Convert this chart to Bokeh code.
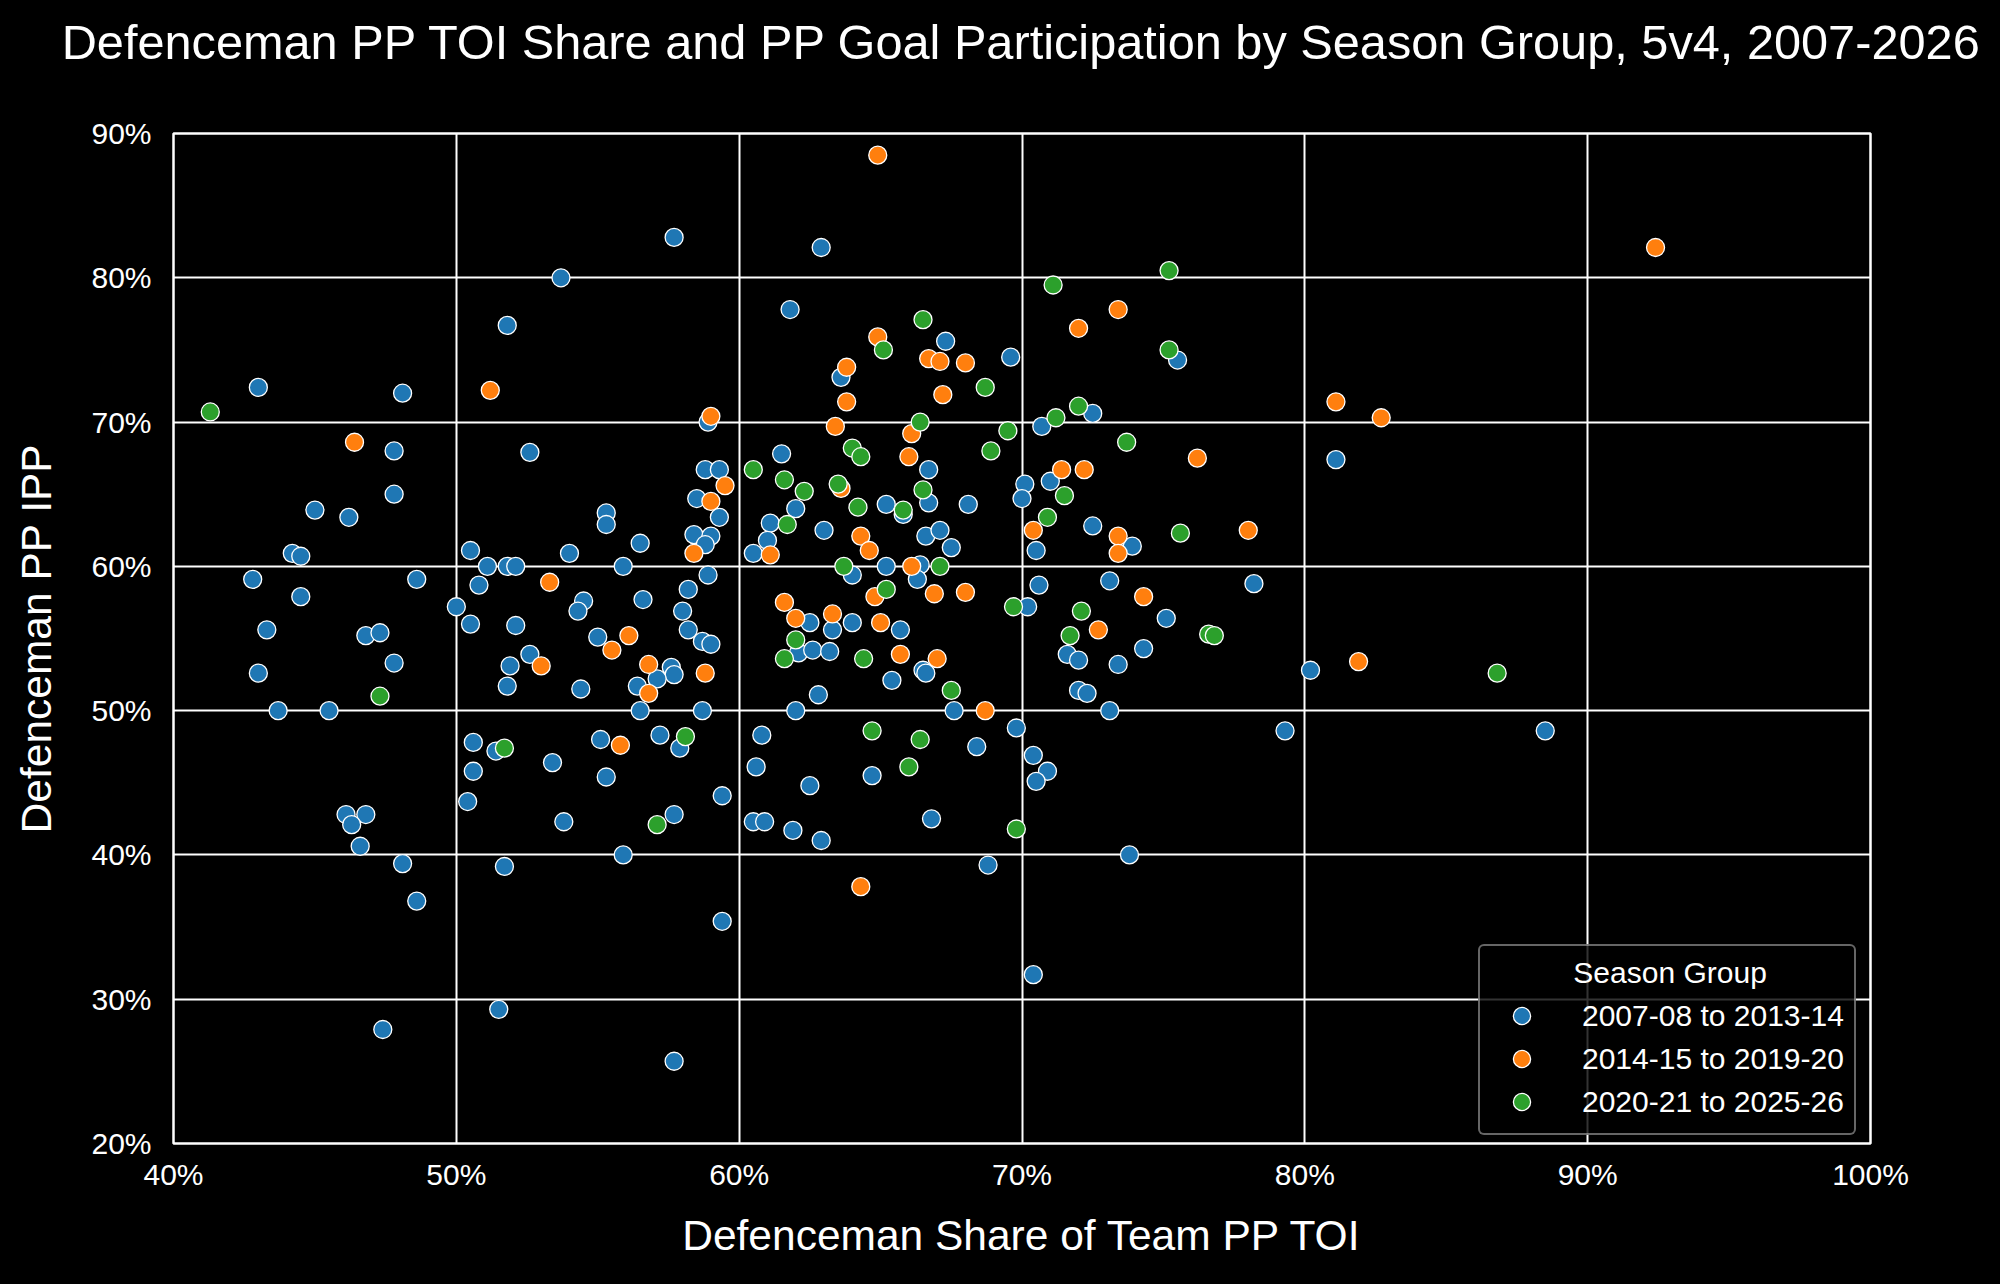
from bokeh.plotting import figure
from bokeh.models import PrintfTickFormatter, FixedTicker, Range1d, Legend, LegendItem, Title
from bokeh.embed import file_html
from bokeh.resources import INLINE

TITLE = "Defenceman PP TOI Share and PP Goal Participation by Season Group, 5v4, 2007-2026"
X_LABEL = "Defenceman Share of Team PP TOI"
Y_LABEL = "Defenceman PP IPP"
LEGEND_TITLE = "Season Group"
GROUPS = ["2007-08 to 2013-14", "2014-15 to 2019-20", "2020-21 to 2025-26"]
COLORS = ["#1f77b4", "#ff7f0e", "#2ca02c"]
X_TICKS = [40, 50, 60, 70, 80, 90, 100]
Y_TICKS = [20, 30, 40, 50, 60, 70, 80, 90]

# Group 1: 2007-08 to 2013-14 (x = PP TOI share %, y = PP IPP %)
toi_g1 = [57.7, 53.7, 51.8, 43.0, 48.1, 58.9, 47.8, 52.6, 58.8, 59.3, 58.5, 59.3, 45.0, 46.2, 47.8,
          55.3, 55.3, 58.4, 59.0, 58.8, 56.5, 44.2, 44.5, 50.5, 51.1, 51.8, 52.1, 54.0, 55.9, 58.9,
          58.2, 58.0, 58.2, 42.8, 48.6, 44.5, 50.8, 54.5, 54.3, 56.6, 50.0, 50.5, 52.1, 43.3, 46.8,
          47.3, 55.0, 58.7, 59.0, 47.8, 43.0, 43.7, 45.5, 52.6, 51.9, 51.8, 54.4, 57.6, 57.7, 57.1,
          56.4, 56.5, 58.7, 50.6, 51.4, 50.6, 50.4, 53.4, 55.1, 55.3, 57.2, 57.9, 59.4, 53.8, 57.7,
          46.1, 46.8, 46.3, 46.6, 55.9, 48.1, 51.7, 48.6, 59.4, 51.5, 47.4, 57.7,
          62.9, 61.8, 67.3, 69.6, 75.5, 63.6, 72.5, 70.7, 61.5, 66.7, 70.1, 71.0, 70.0, 62.0, 66.7,
          65.2, 68.1, 65.8, 61.1, 72.5, 61.0, 63.0, 66.6, 67.1, 67.5, 70.5, 73.9, 60.5, 65.2, 66.4,
          64.0, 66.3, 70.6, 73.1, 70.2, 75.1, 62.5, 63.3, 64.0, 65.7, 62.1, 62.6, 63.2, 66.5, 66.6,
          65.4, 62.8, 62.0, 67.6, 69.8, 60.8, 68.4, 70.4, 70.9, 70.5, 60.6, 62.5, 64.7, 60.5, 60.9,
          61.9, 62.9, 66.8, 68.8, 70.4, 73.8, 71.6, 72.0, 73.4, 74.3, 72.0, 72.3, 73.1,
          81.1, 78.2, 80.2, 79.3, 88.5]
ipp_g1 = [82.8, 80.0, 76.7, 72.4, 72.0, 70.0, 68.0, 67.9, 66.7, 66.7, 64.7, 63.4, 63.9, 63.4, 65.0,
          63.7, 62.9, 62.2, 62.1, 61.5, 61.6, 60.9, 60.7, 61.1, 60.0, 60.0, 60.0, 60.9, 60.0, 59.4,
          58.4, 56.9, 55.6, 59.1, 59.1, 57.9, 58.7, 57.6, 56.9, 57.7, 57.2, 56.0, 55.9, 55.6, 55.2,
          55.4, 55.1, 54.8, 54.6, 53.3, 52.6, 50.0, 50.0, 53.9, 53.1, 51.7, 51.5, 53.0, 52.5, 52.2,
          51.7, 50.0, 50.0, 47.8, 47.2, 45.8, 43.7, 46.4, 48.0, 45.4, 48.3, 47.4, 44.1, 42.3, 42.8,
          42.8, 42.8, 42.1, 40.6, 40.0, 39.4, 39.2, 36.8, 35.4, 29.3, 27.9, 25.7,
          82.1, 77.8, 75.6, 74.5, 74.3, 73.1, 70.6, 69.7, 67.8, 66.7, 65.7, 65.9, 64.7, 64.0, 64.4,
          64.3, 64.3, 63.6, 63.0, 62.8, 61.8, 62.5, 62.1, 62.5, 61.3, 61.1, 61.4, 60.9, 60.0, 60.1,
          59.4, 59.1, 58.7, 59.0, 57.2, 56.4, 56.1, 55.6, 56.1, 55.6, 54.0, 54.2, 54.1, 52.8, 52.6,
          52.1, 51.1, 50.0, 50.0, 48.8, 48.3, 47.5, 46.9, 45.8, 45.1, 46.1, 44.8, 45.5, 42.3, 42.3,
          41.7, 41.0, 42.5, 39.3, 31.7, 40.0, 53.9, 53.5, 53.2, 54.3, 51.4, 51.2, 50.0,
          67.4, 58.8, 52.8, 48.6, 48.6]

# Group 2: 2014-15 to 2019-20
toi_g2 = [51.2, 59.0, 46.4, 59.5, 59.0, 58.4, 53.3, 56.1, 55.5, 53.0, 56.8, 56.8, 58.8, 55.8,
          64.9, 73.4, 72.0, 64.9, 66.7, 67.1, 68.0, 63.8, 67.2, 63.8, 63.4, 66.1, 66.0, 76.2, 71.4,
          72.2, 63.6, 70.4, 73.4, 73.4, 61.1, 66.1, 61.6, 64.8, 66.9, 68.0, 74.3, 72.7, 62.0, 63.3,
          65.0, 65.7, 67.0, 68.7, 64.3, 64.3, 64.6, 92.4, 81.1, 82.7, 78.0, 81.9]
ipp_g2 = [72.2, 70.4, 68.6, 65.6, 64.5, 60.9, 58.9, 55.2, 54.2, 53.1, 53.2, 51.2, 52.6, 47.6,
          88.5, 77.8, 76.5, 75.9, 74.4, 74.2, 74.1, 73.8, 71.9, 71.4, 69.7, 69.2, 67.6, 67.5, 66.7,
          66.7, 65.4, 62.5, 62.1, 60.9, 60.8, 60.0, 57.5, 57.9, 58.1, 58.2, 57.9, 55.6, 56.4, 56.7,
          56.1, 53.9, 53.6, 50.0, 37.8, 62.1, 61.1, 82.1, 71.4, 70.3, 62.5, 53.4]

# Group 3: 2020-21 to 2025-26
toi_g3 = [41.3, 47.3, 51.7, 58.1, 57.1, 75.2, 71.1, 66.5, 65.1, 75.2, 68.7, 72.0, 71.2, 66.4, 69.5,
          73.7, 68.9, 64.0, 64.3, 60.5, 61.6, 62.3, 63.5, 66.5, 71.5, 64.2, 65.8, 61.7, 70.9, 75.6,
          63.7, 67.1, 65.2, 69.7, 72.1, 71.7, 76.6, 76.8, 62.0, 61.6, 64.4, 67.5, 64.7, 66.4, 66.0,
          69.8, 86.8]
ipp_g3 = [70.7, 51.0, 47.4, 48.2, 42.1, 80.5, 79.5, 77.1, 75.0, 75.0, 72.4, 71.1, 70.3, 70.0, 69.4,
          68.6, 68.0, 68.2, 67.6, 66.7, 66.0, 65.2, 65.7, 65.3, 64.9, 64.1, 63.9, 62.9, 63.4, 62.3,
          60.0, 60.0, 58.4, 57.2, 56.9, 55.2, 55.3, 55.2, 54.9, 53.6, 53.6, 51.4, 48.6, 48.0, 46.1,
          41.8, 52.6]

FONT = "Liberation Sans"

p = figure(width=2000, height=1284, output_backend="svg", toolbar_location=None, title=None,
           x_range=Range1d(40, 100), y_range=Range1d(20, 90),
           min_border_left=173, min_border_right=130, min_border_top=133, min_border_bottom=141,
           background_fill_color="black", border_fill_color="black")

# spacer between the plot frame and the title, then the title itself
p.add_layout(Title(text="\u00a0", text_font=FONT, text_font_size="30px", standoff=30,
                   text_color="black"), "above")
p.add_layout(Title(text=TITLE, text_font=FONT, text_font_size="48.7px", text_font_style="normal",
                   text_color="white", align="center", vertical_align="bottom", standoff=0),
             "above")

p.outline_line_color = "white"
p.outline_line_width = 2.5

for ax in (p.xaxis[0], p.yaxis[0]):
    ax.axis_line_color = None
    ax.major_tick_line_color = None
    ax.minor_tick_line_color = None
    ax.major_tick_in = 0
    ax.major_tick_out = 0
    ax.minor_tick_out = 0
    ax.major_label_text_font = FONT
    ax.major_label_text_font_size = "30px"
    ax.major_label_text_color = "white"
    ax.axis_label_text_font = FONT
    ax.axis_label_text_font_size = "42.5px"
    ax.axis_label_text_font_style = "normal"
    ax.axis_label_text_color = "white"
    ax.formatter = PrintfTickFormatter(format="%d%%")

p.xaxis[0].ticker = FixedTicker(ticks=X_TICKS)
p.yaxis[0].ticker = FixedTicker(ticks=Y_TICKS)
p.xaxis[0].axis_label = X_LABEL
p.yaxis[0].axis_label = Y_LABEL
p.xaxis[0].major_label_standoff = 14
p.yaxis[0].major_label_standoff = 22
p.xaxis[0].axis_label_standoff = 18
p.yaxis[0].axis_label_standoff = 28

p.xgrid.grid_line_color = "white"
p.ygrid.grid_line_color = "white"
p.xgrid.grid_line_width = 2
p.ygrid.grid_line_width = 2
p.xgrid.ticker = FixedTicker(ticks=X_TICKS)
p.ygrid.ticker = FixedTicker(ticks=Y_TICKS)

items = []
for xs, ys, col, lab in [(toi_g1, ipp_g1, COLORS[0], GROUPS[0]),
                         (toi_g2, ipp_g2, COLORS[1], GROUPS[1]),
                         (toi_g3, ipp_g3, COLORS[2], GROUPS[2])]:
    r = p.scatter(xs, ys, size=18, marker="circle", fill_color=col, line_color="white",
                  line_width=1.3)
    items.append(LegendItem(label=lab, renderers=[r]))

legend = Legend(items=items, location=(1305, 8))
# non-breaking spaces push the legend title towards the centre of the box
legend.title = "\u00a0" * 10 + LEGEND_TITLE
legend.title_text_font = FONT
legend.title_text_font_size = "30px"
legend.title_text_font_style = "normal"
legend.title_text_color = "white"
legend.title_standoff = 4
legend.label_text_font = FONT
legend.label_text_font_size = "30px"
legend.label_text_color = "white"
legend.glyph_width = 63
legend.glyph_height = 43
legend.label_height = 43
legend.label_standoff = 29
legend.spacing = 0
legend.padding = 10
legend.margin = 0
legend.background_fill_color = "black"
legend.background_fill_alpha = 0.8
legend.border_line_color = "#cccccc"
legend.border_line_width = 2
legend.border_radius = 6
p.add_layout(legend, "center")

html = file_html(p, INLINE, title="Defenceman PP TOI Share")
html = html.replace("<head>", "<head><style>body{background:#000000;}</style>", 1)
open("out.html", "w").write(html)
